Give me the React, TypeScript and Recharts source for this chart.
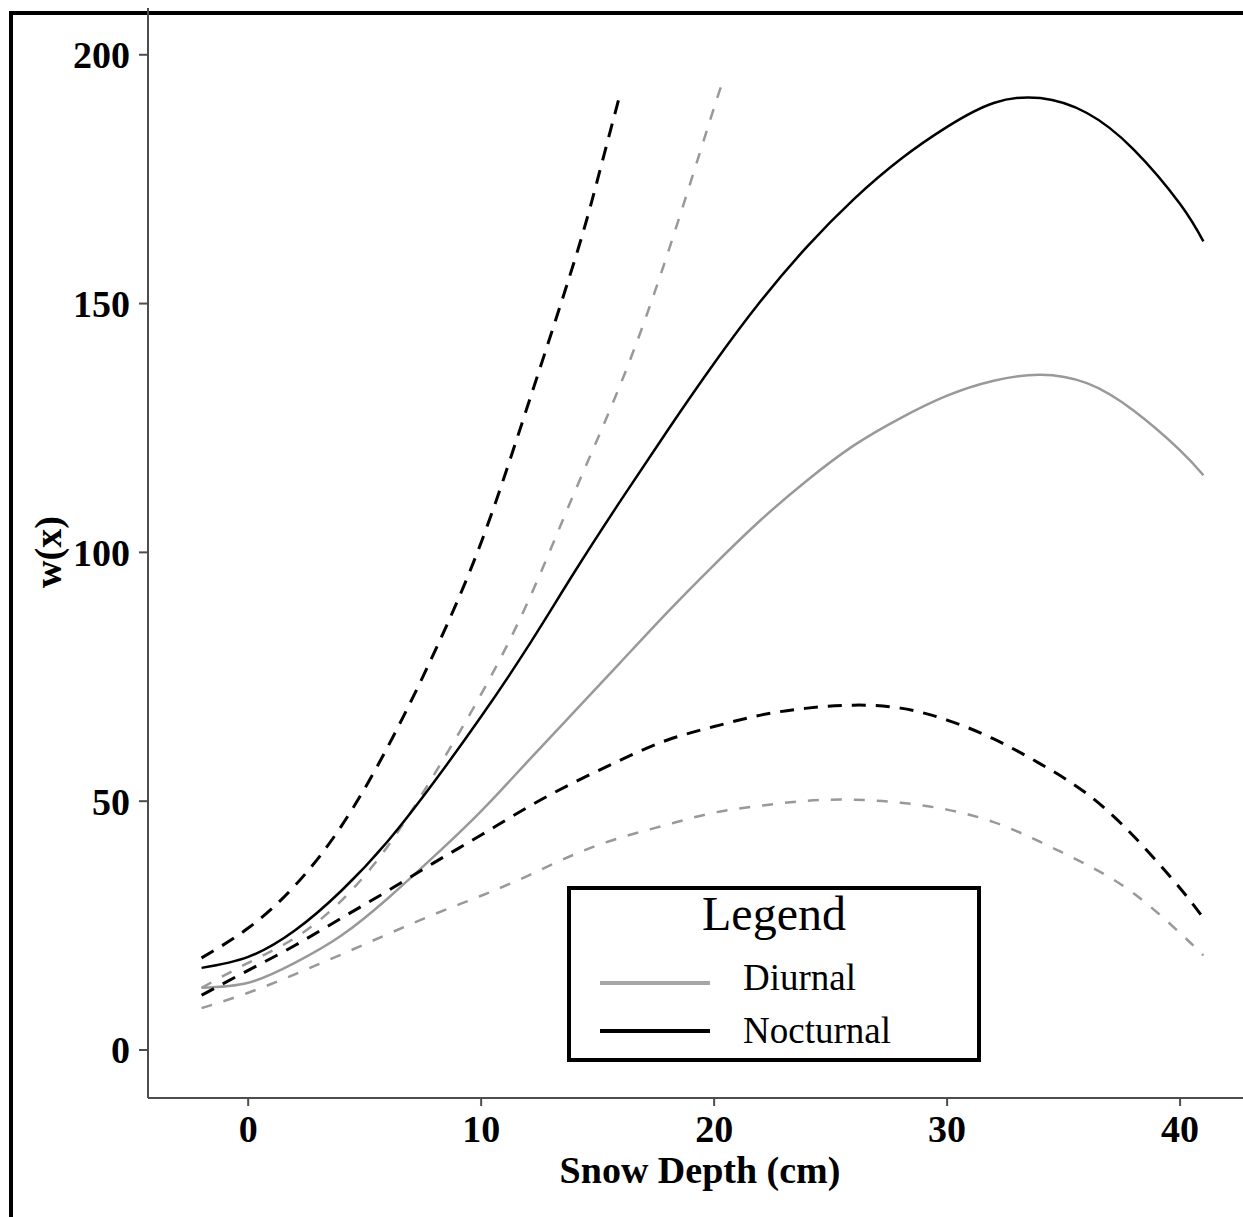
import { LineChart, Line, XAxis, YAxis } from "recharts";

// snow depth (cm) shared by the full-range curves
const depth = [-2, 0, 2, 4, 6, 8, 10, 12, 14, 16, 18, 20, 22, 24, 26, 28, 30, 32, 34, 36, 38, 40, 41];

const nocturnalMean = [16.5, 18.7, 24, 32, 42, 54, 67, 81, 96, 110.5, 124.5, 138, 150.5, 161.5, 171, 179, 185.5, 190.3, 191.3, 188.3, 181, 170, 162.5];
const diurnalMean = [12.5, 13.5, 17.5, 23, 30.5, 39, 48, 58, 68, 78, 88, 97.5, 106.5, 114.5, 121.5, 127, 131.5, 134.5, 135.7, 134, 128.5, 120.5, 115.5];
const nocturnalLower = [11, 16, 21, 26.5, 32, 37.7, 43.2, 48.8, 53.8, 58.3, 62.3, 65, 67.3, 68.7, 69.3, 68.7, 66.3, 62.5, 57.5, 51.5, 43, 32.5, 26.5];
const diurnalLower = [8.4, 11.5, 15.2, 19.2, 23.3, 27.3, 31, 35, 39.3, 42.7, 45.3, 47.7, 49.1, 50.1, 50.3, 49.7, 48.3, 45.8, 41.8, 37.2, 31.5, 23.5, 19];

// upper bounds leave the plot early
const nocturnalUpperDepth = [-2, 0, 2, 4, 6, 8, 10, 12, 14, 15, 15.9];
const nocturnalUpper = [18.5, 24.5, 33, 45, 61, 80, 102, 129.5, 158.5, 175, 191];
const diurnalUpperDepth = [-2, 0, 2, 4, 6, 8, 10, 12, 14, 16, 18, 20, 20.3];
const diurnalUpper = [12.5, 17.5, 22.5, 30, 41, 55.5, 71.5, 90, 112, 134, 160, 189.4, 193];

const xTicks = [0, 10, 20, 30, 40];
const yTicks = [0, 50, 100, 150, 200];

const toPoints = (xs: number[], ys: number[]) => xs.map((x, i) => ({ x, y: ys[i] }));

const GRAY = "#999999";
const AXIS = "#4d4d4d";
const serif = '"Liberation Serif", "Times New Roman", serif';

const tickStyle = {
  fontFamily: serif,
  fontWeight: 700,
  fontSize: 38,
  fill: "#000",
};

export default function App() {
  return (
    <div
      style={{
        position: "absolute",
        left: 0,
        top: 0,
        width: 1243,
        height: 1217,
        overflow: "hidden",
        background: "#fff",
      }}
    >
      {/* outer figure frame, cropped on the right and bottom */}
      <div
        style={{
          position: "absolute",
          left: 9,
          top: 11,
          width: 1400,
          height: 1400,
          borderLeft: "4px solid #000",
          borderTop: "4px solid #000",
        }}
      />

      <div style={{ position: "absolute", left: 0, top: 0 }}>
        <LineChart width={1243} height={1217} margin={{ top: 8, right: 0, bottom: 0, left: 0 }}>
          <XAxis
            dataKey="x"
            type="number"
            domain={[-4.3, 42.7]}
            allowDataOverflow
            ticks={xTicks}
            height={119}
            tickSize={8}
            tickMargin={9}
            axisLine={{ stroke: AXIS, strokeWidth: 2 }}
            tickLine={{ stroke: AXIS, strokeWidth: 2 }}
            tick={tickStyle}
          />
          <YAxis
            dataKey="y"
            type="number"
            domain={[-9.65, 209.4]}
            allowDataOverflow
            ticks={yTicks}
            width={148}
            tickSize={9}
            tickMargin={9}
            axisLine={{ stroke: AXIS, strokeWidth: 2 }}
            tickLine={{ stroke: AXIS, strokeWidth: 2 }}
            tick={tickStyle}
          />
          <Line data={toPoints(diurnalUpperDepth, diurnalUpper)} dataKey="y" type="natural" stroke={GRAY} strokeWidth={2.5} strokeDasharray="11 12" dot={false} activeDot={false} isAnimationActive={false} />
          <Line data={toPoints(depth, diurnalLower)} dataKey="y" type="natural" stroke={GRAY} strokeWidth={2.5} strokeDasharray="11 12" dot={false} activeDot={false} isAnimationActive={false} />
          <Line data={toPoints(depth, diurnalMean)} dataKey="y" type="natural" stroke={GRAY} strokeWidth={2.5} dot={false} activeDot={false} isAnimationActive={false} />
          <Line data={toPoints(nocturnalUpperDepth, nocturnalUpper)} dataKey="y" type="natural" stroke="#000" strokeWidth={3} strokeDasharray="14 10" dot={false} activeDot={false} isAnimationActive={false} />
          <Line data={toPoints(depth, nocturnalLower)} dataKey="y" type="natural" stroke="#000" strokeWidth={3} strokeDasharray="14 10" dot={false} activeDot={false} isAnimationActive={false} />
          <Line data={toPoints(depth, nocturnalMean)} dataKey="y" type="natural" stroke="#000" strokeWidth={2.5} dot={false} activeDot={false} isAnimationActive={false} />
        </LineChart>
      </div>

      {/* axis titles */}
      <div
        style={{
          position: "absolute",
          left: 400,
          top: 1151,
          width: 600,
          textAlign: "center",
          fontFamily: serif,
          fontWeight: 700,
          fontSize: 38,
          lineHeight: 1,
          whiteSpace: "nowrap",
        }}
      >
        Snow Depth (cm)
      </div>
      <div
        style={{
          position: "absolute",
          left: 48,
          top: 552,
          transform: "translate(-50%, -50%) rotate(-90deg)",
          fontFamily: serif,
          fontWeight: 700,
          fontSize: 38,
          lineHeight: 1,
          whiteSpace: "nowrap",
        }}
      >
        w(x)
      </div>

      {/* legend box */}
      <div
        style={{
          position: "absolute",
          left: 567,
          top: 886,
          width: 414,
          height: 176,
          boxSizing: "border-box",
          border: "4px solid #000",
          background: "#fff",
          fontFamily: serif,
        }}
      >
        <div style={{ position: "absolute", left: 0, top: 0, width: "100%", textAlign: "center", fontSize: 48, lineHeight: 1 }}>
          Legend
        </div>
        <div style={{ position: "absolute", left: 29, top: 91, width: 110, height: 4, background: "#a6a6a6" }} />
        <div style={{ position: "absolute", left: 172, top: 69, fontSize: 37, lineHeight: 1 }}>Diurnal</div>
        <div style={{ position: "absolute", left: 29, top: 139, width: 110, height: 4, background: "#000" }} />
        <div style={{ position: "absolute", left: 172, top: 122, fontSize: 37, lineHeight: 1 }}>Nocturnal</div>
      </div>
    </div>
  );
}
